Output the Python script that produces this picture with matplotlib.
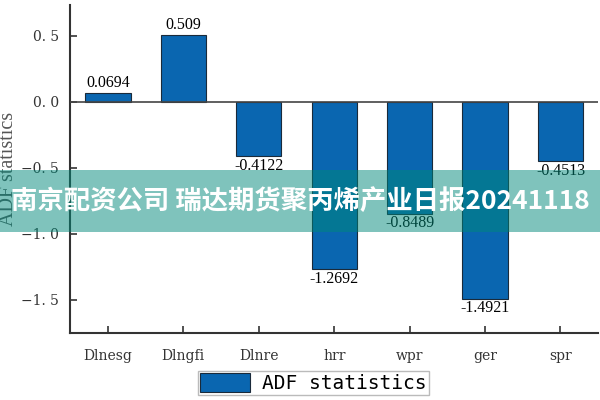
import matplotlib.pyplot as plt
from matplotlib.patches import Rectangle

categories = ["Dlnesg", "Dlngfi", "Dlnre", "hrr", "wpr", "ger", "spr"]
adf_values = [0.0694, 0.509, -0.4122, -1.2692, -0.8489, -1.4921, -0.4513]
value_labels = ["0.0694", "0.509", "-0.4122", "-1.2692", "-0.8489", "-1.4921", "-0.4513"]
banner_text = "南京配资公司 瑞达期货聚丙烯产业日报20241118"

serif = "Liberation Serif"
wide_serif = "DejaVu Serif"

fig = plt.figure(figsize=(6, 4), dpi=100)
ax = fig.add_axes([0.117, 0.168, 0.88, 0.82])

x = range(len(categories))
bars = ax.bar(x, adf_values, width=0.6, color="#0a66b0", edgecolor="#1a2a3a",
              linewidth=0.8, label="ADF statistics", zorder=2)

# value labels above positive bars, below negative ones
for xi, v, lab in zip(x, adf_values, value_labels):
    if v >= 0:
        ax.text(xi, v + 0.01, lab, ha="center", va="bottom", fontsize=11.5, family=serif)
    else:
        ax.text(xi, v - 0.01, lab, ha="center", va="top", fontsize=11.5, family=serif)

ax.axhline(0, color="#444444", linewidth=1.2, zorder=3)

ax.set_xlim(-0.5, 6.5)
ax.set_ylim(-1.75, 0.735)
ax.set_yticks([0.5, 0.0, -0.5, -1.0, -1.5])
ax.set_yticklabels(["0. 5", "0. 0", "\u22120. 5", "\u22121. 0", "\u22121. 5"],
                   family=wide_serif, fontsize=10, color="#333333")
ax.set_xticks(list(x))
ax.set_xticklabels(categories, family=wide_serif, fontsize=10, color="#333333")
ax.tick_params(axis="both", direction="in", length=5, width=1.2, colors="#333333",
               labelcolor="#333333")
ax.tick_params(axis="x", pad=12)
ax.tick_params(axis="y", pad=8)

for s in ["top", "right"]:
    ax.spines[s].set_visible(False)
for s in ["left", "bottom"]:
    ax.spines[s].set_linewidth(1.5)
    ax.spines[s].set_color("#333333")

ax.set_ylabel("ADF statistics", family=serif, fontsize=14.5, color="#555555")
ax.yaxis.set_label_coords(-0.098, 0.5)

leg = fig.legend(handles=[bars], labels=["ADF statistics"], loc="center",
                 bbox_to_anchor=(0.522, 0.0425), frameon=True, fancybox=False,
                 prop={"family": "DejaVu Sans Mono", "size": 14},
                 handlelength=2.6, handleheight=1.1, borderpad=0.12, handletextpad=0.6)
leg.get_frame().set_edgecolor("#aaaaaa")
leg.get_frame().set_linewidth(1.0)

# watermark banner
fig.patches.append(Rectangle((0, 0.42), 1, 0.155, transform=fig.transFigure,
                             facecolor="#00897a", alpha=0.5, edgecolor="none", zorder=10))
fig.text(0.5, 0.497, banner_text, ha="center", va="center", color="white",
         fontsize=19, fontweight="bold",
         family=["Noto Sans CJK SC", "DejaVu Sans"], zorder=11)

fig.savefig("out.png", dpi=100)
